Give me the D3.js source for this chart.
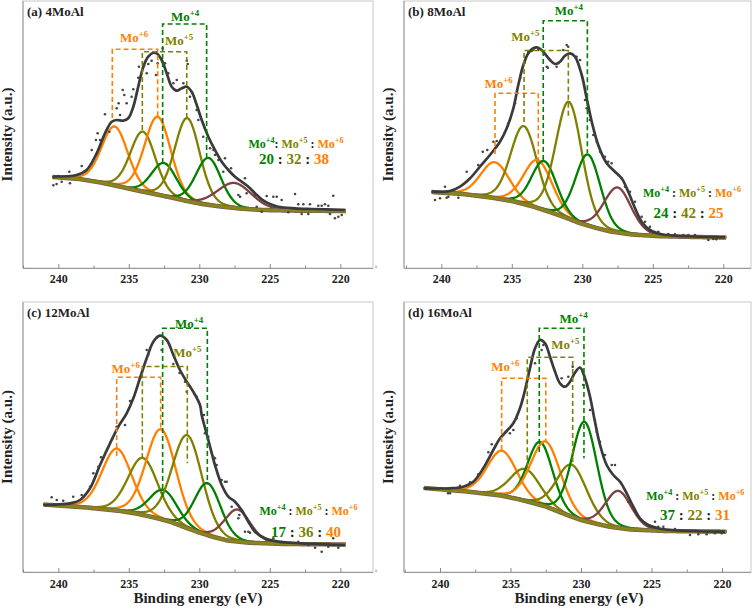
<!DOCTYPE html>
<html>
<head>
<meta charset="utf-8">
<style>
  body { margin: 0; background: #fff; }
  svg { display: block; }
  text { font-family: "Liberation Serif", "Times New Roman", serif; font-weight: bold; white-space: pre; }
</style>
</head>
<body>
<svg id="chart" width="756" height="609"></svg>
<script src="https://cdn.jsdelivr.net/npm/d3@7"></script>
<script>
// ---- data ----
const titles = ["(a) 4MoAl", "(b) 8MoAl", "(c) 12MoAl", "(d) 16MoAl"];
const xTicks = [240, 235, 230, 225, 220];
const ratios = [[20, 32, 38], [24, 42, 25], [17, 36, 40], [37, 22, 31]];

// fitted peaks: [state, centre (eV), height above background, FWHM (eV)]
const peaksA = [
  ["Mo6", 236.0, 59, 2.2], ["Mo5", 234.0, 60, 2.1], ["Mo6", 232.95, 78, 2.2],
  ["Mo4", 232.5, 33, 2.1], ["Mo5", 230.85, 83, 2.1], ["Mo4", 229.35, 47, 2.1],
  ["S2s", 227.5, 25, 2.9]
];
const peaksB = [
  ["Mo6", 236.2, 36, 2.4], ["Mo5", 234.15, 78, 2.2], ["Mo6", 233.15, 48, 2.4],
  ["Mo4", 232.7, 49, 2.1], ["Mo5", 230.95, 117, 2.2], ["Mo4", 229.6, 71, 2.1],
  ["S2s", 227.5, 45, 2.3]
];
const peaksC = [
  ["Mo6", 235.85, 62, 2.5], ["Mo5", 234.0, 57, 2.5], ["Mo6", 232.72, 90, 2.5],
  ["Mo4", 232.55, 30, 2.3], ["Mo5", 230.85, 93, 2.5], ["Mo4", 229.4, 52, 2.2],
  ["S2s", 227.3, 32, 2.2]
];
const peaksD = [
  ["Mo6", 235.6, 45, 2.5], ["Mo5", 233.95, 32, 2.5], ["Mo4", 232.9, 63, 2.1],
  ["Mo6", 232.5, 65, 2.5], ["Mo5", 230.65, 52, 2.5], ["Mo4", 229.75, 99, 2.1],
  ["S2s", 227.35, 37, 2.2]
];

// Shirley background [eV, intensity]
const bgA = [[240.4, 91], [238.5, 89], [237, 85.5], [235.6, 81.3], [234.4, 77.5], [233.2, 74], [232, 70.5],
  [230.9, 67], [229.8, 64], [228.5, 61.5], [227, 59.3], [225.5, 58], [223, 57.3], [219.6, 57]];
const bgB = [[240.7, 76], [238.5, 74], [236.5, 70.5], [235, 67], [233.5, 61.5], [232.3, 56], [231.1, 50],
  [230.2, 45], [229, 40], [228, 36.5], [226.5, 33.5], [224.5, 31.8], [222, 31], [219.8, 30.5]];
const bgC = [[241.06, 67.5], [238, 64.5], [235.6, 61], [234.3, 58], [233.2, 54.5], [232, 50], [230.9, 44],
  [230, 39.5], [229, 35], [228, 31.5], [226.5, 29.3], [224, 28], [219.6, 27.5]];
const bgD = [[241.1, 84], [238.1, 80.5], [235.7, 76.5], [234.5, 73], [233.4, 69], [232.5, 65.5], [231.7, 61],
  [230.8, 56], [230, 52], [229, 48.5], [228, 45.3], [226.5, 42.5], [224, 41], [219.7, 40.3]];

// fitted envelope [eV, intensity]
const envA = [[240.35, 91.3], [238.7, 93], [237.99, 98], [237.28, 114.7], [236.69, 134.7], [236.21, 146.3],
  [235.86, 148], [235.39, 147.3], [235.04, 149.7], [234.68, 161.3], [234.33, 181.3], [233.97, 201.3],
  [233.62, 211.3], [233.26, 215.3], [233.02, 214.7], [232.67, 208], [232.31, 194.7], [231.96, 181.3],
  [231.6, 177.3], [231.25, 179.7], [230.89, 181.3], [230.54, 176.3], [230.18, 163], [229.83, 148],
  [229.36, 131.3], [228.89, 118], [228.41, 106.3], [227.94, 98], [227.47, 91.3], [227.0, 86.3], [226.52, 81.3],
  [226.05, 74.7], [225.58, 68.7], [224.99, 64], [224.4, 61.3], [223.21, 59.7], [222.03, 59], [219.67, 58]];
const envB = [[240.68, 76.3], [239.38, 77], [238.67, 81.3], [237.96, 89.7], [237.26, 101.3], [236.55, 113],
  [235.84, 126.3], [235.36, 139.7], [234.89, 159.7], [234.54, 183], [234.18, 203], [233.83, 214.7],
  [233.48, 219.7], [233.12, 220.3], [232.77, 216.3], [232.29, 208], [231.94, 204], [231.58, 206.3],
  [231.23, 212.3], [230.87, 214.7], [230.52, 211.3], [230.04, 193], [229.69, 169.7], [229.33, 146.3],
  [228.87, 123], [228.27, 104.7], [227.68, 96.3], [227.21, 89.7], [226.74, 76.3], [226.26, 59.7], [225.79, 46.3],
  [225.2, 38], [224.37, 33.7], [222.95, 32], [219.88, 30.7]];
const envC = [[241.06, 67], [239.17, 68.7], [238.46, 72], [237.75, 83.7], [237.04, 107], [236.33, 128.7],
  [235.74, 145.3], [235.15, 158.7], [234.68, 173.7], [234.21, 193.7], [233.73, 213.7], [233.26, 230.3],
  [232.79, 236.3], [232.31, 232], [231.84, 217], [231.37, 202], [230.89, 190.3], [230.43, 180.3], [229.95, 167],
  [229.83, 157], [229.36, 132], [228.89, 107], [228.41, 87], [227.94, 75.3], [227.47, 70.3], [227.0, 62],
  [226.52, 50.3], [226.05, 40.3], [225.34, 33.7], [224.4, 30.3], [222.74, 28.7], [219.67, 27]];
const envD = [[241.18, 83.7], [239.29, 83.7], [238.35, 85.3], [237.64, 90.3], [236.93, 103.7], [236.22, 122],
  [235.74, 133.7], [235.27, 141], [234.8, 148.7], [234.33, 163.7], [233.97, 182], [233.62, 203.7],
  [233.26, 223.7], [232.91, 232], [232.55, 228.7], [232.2, 215.3], [231.84, 200.3], [231.49, 188.7],
  [231.13, 185.3], [230.78, 190.3], [230.43, 199.3], [230.07, 204.5], [229.72, 193.7], [229.36, 175.3],
  [229.01, 150.3], [228.65, 127], [228.18, 107], [227.71, 97], [227.23, 90.3], [226.76, 78.7], [226.29, 65.3],
  [225.82, 53.7], [225.23, 47], [224.28, 43], [222.15, 41], [219.79, 40.3]];

// measured points [eV, intensity]
const pointsA = [
  [240.35, 90.7], [240.0, 92], [240.35, 82.7], [240.12, 84], [239.76, 86.3], [239.17, 84.7], [239.22, 96.3],
  [238.34, 102], [237.63, 118], [237.33, 128], [237.21, 134.7], [237.04, 128], [236.69, 153.7], [236.38, 136.3],
  [235.86, 159.7], [235.72, 164.7], [235.62, 153], [235.43, 178], [235.32, 173], [235.15, 164.7], [234.8, 171.3],
  [234.68, 178.7], [234.33, 190.3], [234.28, 201.3], [233.92, 202], [233.73, 194.7], [233.62, 204], [233.38, 207.3],
  [233.07, 193], [232.95, 204.7], [232.6, 219.7], [232.43, 204.7], [232.2, 194.7], [231.84, 184.7], [231.6, 188],
  [231.13, 184.7], [230.89, 207.3], [230.82, 204], [230.66, 171.3], [230.19, 158], [230.07, 148], [229.72, 131.3],
  [229.24, 119.7], [229.0, 118], [228.89, 113], [228.65, 108], [228.18, 109.7], [228.3, 96.3], [227.75, 99.7],
  [227.23, 73], [227.11, 71.3], [226.76, 89.7], [226.64, 74.7], [226.05, 73], [225.93, 61.3], [225.58, 56.3],
  [225.22, 72], [224.75, 71.3], [224.51, 71.3], [224.16, 68], [223.69, 55.7], [223.21, 74], [222.98, 63.7],
  [222.74, 54], [222.62, 63.7], [222.27, 54], [222.15, 63.7], [221.56, 62.3], [221.32, 62.3], [221.09, 63.7],
  [220.85, 62.3], [220.73, 54], [220.5, 72.3], [220.38, 49.7], [220.14, 51.3], [219.9, 53]
];
const pointsB = [
  [240.45, 68], [240.09, 69.7], [239.62, 70.3], [239.5, 71.3], [238.79, 70.3], [239.74, 81.3], [238.2, 96.3],
  [237.38, 103], [237.06, 116.3], [236.74, 118], [236.31, 126.3], [236.07, 127], [235.25, 144.7], [234.77, 164.7],
  [234.4, 190], [234.1, 205], [233.83, 216.3], [233.59, 217], [233.48, 218.7], [233.12, 218], [232.52, 201.3],
  [232.44, 200.3], [231.82, 201.3], [231.7, 204.7], [231.35, 218], [231.11, 223], [231.0, 221.3], [230.4, 211.3],
  [230.16, 208], [229.81, 168], [229.69, 159.7], [229.45, 148], [229.22, 133], [228.98, 126.3], [228.74, 116.3],
  [228.39, 111.3], [228.16, 106.3], [227.92, 104.7], [227.45, 93], [227.21, 89.7], [226.97, 81.3], [226.62, 76.3],
  [226.26, 66.3], [225.79, 51.3], [225.55, 46.3], [225.2, 41.3], [224.61, 36.3], [223.9, 34], [223.43, 33.7],
  [222.84, 33], [222.48, 33], [222.01, 33], [221.06, 28], [220.71, 29], [220.5, 28.7]
];
const pointsC = [
  [240.47, 74.7], [240.11, 72], [239.65, 71.3], [238.94, 75.3], [238.34, 77], [237.75, 85.3], [237.52, 98.7],
  [237.16, 105.3], [236.97, 114.7], [236.62, 120.3], [236.14, 133.7], [235.86, 145.3], [235.27, 147], [234.91, 171],
  [234.21, 193.7], [234.09, 195.3], [233.73, 222], [233.62, 217], [233.02, 234.3], [232.67, 222], [231.84, 208],
  [231.4, 199], [231.01, 190.3], [230.89, 180.3], [230.18, 175.3], [229.67, 157], [229.6, 138.7], [229.48, 140.3],
  [229.36, 135.3], [229.0, 115.3], [228.89, 113.7], [228.77, 107], [228.41, 92], [228.18, 90.3], [228.06, 90.3],
  [227.7, 65.3], [227.23, 53.7], [227.16, 57], [226.76, 40.3], [226.52, 40.3], [226.4, 39.3], [224.75, 33.7],
  [222.98, 30.3], [222.27, 27], [221.79, 24.3], [221.32, 20.3], [220.85, 25.3], [220.5, 33.7], [220.14, 24.3]
];
const pointsD = [
  [239.43, 78.7], [239.29, 78.7], [238.58, 86.3], [237.87, 89.7], [237.28, 97.7], [236.57, 119.7], [236.33, 127.7],
  [235.51, 137], [235.32, 140.3], [235.04, 138.7], [234.8, 142], [234.56, 153.7], [233.85, 185.3], [233.26, 208.7],
  [232.79, 222], [232.67, 227], [231.37, 193.7], [230.9, 195.3], [230.59, 205.3], [229.84, 187], [229.74, 195.3],
  [229.36, 162], [229.01, 152], [228.89, 140.3], [228.65, 130.3], [228.3, 117], [227.82, 107], [227.59, 107],
  [226.65, 70.3], [224.75, 50.3], [224.52, 45.3], [224.16, 45.3], [223.33, 43], [222.27, 37], [221.68, 37.7],
  [221.09, 37.7], [220.5, 38.7], [220.02, 38.7]
];

// doublet brackets: [state, left eV, right eV, top, left end, right end, label eV, label baseline]
const bracketsA = [
  ["Mo6", 236.17, 232.95, 218.7, 150, 152, 234.63, 226],
  ["Mo5", 234.04, 230.89, 216.3, 138, 149, 231.44, 223],
  ["Mo4", 232.6, 229.48, 244, 105, 111, 231.01, 247]
];
const bracketsB = [
  ["Mo6", 236.19, 233.12, 174.7, 114, 106, 235.93, 180],
  ["Mo5", 234.13, 230.99, 217.5, 146, 151, 234.04, 227],
  ["Mo4", 232.77, 229.64, 247.3, 108, 115, 230.96, 253]
];
const bracketsC = [
  ["Mo6", 235.86, 232.74, 194.7, 116, 142.7, 235.22, 199],
  ["Mo5", 234.04, 230.85, 205.5, 113.7, 108.7, 230.85, 215],
  ["Mo4", 232.6, 229.43, 243.7, 75, 87.5, 230.73, 244]
];
const bracketsD = [
  ["Mo6", 235.63, 232.5, 193.7, 122, 130, 235.37, 201],
  ["Mo5", 233.81, 230.59, 214.7, 103.7, 108.7, 231.11, 223],
  ["Mo4", 232.96, 229.79, 243.7, 120, 113.7, 230.52, 249]
];

// ---- layout ----
const boxes = [
  { left: 23, top: 1, width: 350, height: 267, t240: 35.3 },
  { left: 404, top: 1, width: 347, height: 267, t240: 37.3 },
  { left: 23, top: 302, width: 350, height: 270, t240: 35.3 },
  { left: 404, top: 302, width: 347, height: 270, t240: 36 }
];
const ratioPos = [[296, 148, 294, 164], [692, 197, 688.5, 218], [308.5, 515, 306, 537], [695.3, 500, 695, 520]];
const panelData = [
  { peaks: peaksA, bg: bgA, env: envA, pts: pointsA, br: bracketsA },
  { peaks: peaksB, bg: bgB, env: envB, pts: pointsB, br: bracketsB },
  { peaks: peaksC, bg: bgC, env: envC, pts: pointsC, br: bracketsC },
  { peaks: peaksD, bg: bgD, env: envD, pts: pointsD, br: bracketsD }
];

const color = d3.scaleOrdinal()
  .domain(["Mo6", "Mo5", "Mo4", "S2s"])
  .range(["#ff8000", "#808000", "#008000", "#7f4040"]);
const charge = { Mo6: "+6", Mo5: "+5", Mo4: "+4" };

// Gaussian-Lorentzian line shape
function glPeak(e, c, h, w) {
  const d = (e - c) / w;
  return h * (0.85 * Math.exp(-4 * Math.LN2 * d * d) + 0.15 / (1 + 4 * d * d));
}

function richText(parent, x, y, size, segs) {
  const t = parent.append("text")
    .attr("x", x).attr("y", y)
    .attr("text-anchor", "middle")
    .attr("font-size", size);
  let cur = 0;
  segs.forEach(([txt, col, sup]) => {
    const target = sup ? -size * 0.4 : 0;
    t.append("tspan")
      .attr("dy", target - cur)
      .attr("font-size", sup ? size * 0.68 : size)
      .attr("fill", col)
      .text(txt);
    cur = target;
  });
  return t;
}

const svg = d3.select("#chart");

panelData.forEach((p, i) => {
  const b = boxes[i];
  const bottom = b.top + b.height;
  const x = d3.scaleLinear().domain([240, 220]).range([b.left + b.t240, b.left + b.t240 + 282]);
  const y = d3.scaleLinear().domain([0, b.height]).range([bottom, b.top]);
  const bgScale = d3.scaleLinear().domain(p.bg.map(d => d[0])).range(p.bg.map(d => d[1])).clamp(true);
  const span = d3.extent(p.bg, d => d[0]);
  const grid = d3.range(span[0], span[1] + 0.001, 0.04);

  const g = svg.append("g");

  // frame
  g.append("rect")
    .attr("x", b.left).attr("y", b.top)
    .attr("width", b.width).attr("height", b.height)
    .attr("fill", "none").attr("stroke", "#c8c8c8");
  g.append("line")
    .attr("x1", b.left).attr("x2", b.left).attr("y1", b.top).attr("y2", bottom)
    .attr("stroke", "#9a9a9a");

  // x axis
  const minor = d3.range(242.5, 217.4, -2.5);
  const axis = d3.axisBottom(x)
    .tickValues(minor)
    .tickFormat(d => (xTicks.includes(d) ? d : ""))
    .tickSizeInner(-4)
    .tickSizeOuter(0)
    .tickPadding(i < 2 ? 6.5 : 7.5);
  const ax = g.append("g").attr("transform", `translate(0,${bottom})`).call(axis);
  ax.select(".domain").attr("stroke", "#9a9a9a").attr("d", `M${b.left},0.5H${b.left + b.width}`);
  ax.selectAll(".tick line").attr("stroke", "#8a8a8a")
    .attr("y2", d => (xTicks.includes(d) ? -4 : -2.5));
  ax.selectAll(".tick text")
    .attr("font-size", 12)
    .attr("fill", "#222");

  const line = d3.line().x(d => x(d[0])).y(d => y(d[1]));

  // component peaks
  p.peaks.forEach(pk => {
    const pts = grid.map(e => [e, bgScale(e) + glPeak(e, pk[1], pk[2], pk[3])]);
    g.append("path").attr("d", line(pts))
      .attr("fill", "none").attr("stroke", color(pk[0])).attr("stroke-width", 2.3);
  });

  // background band
  const bgPts = grid.map(e => [e, bgScale(e)]);
  g.append("path").attr("d", line(bgPts))
    .attr("fill", "none").attr("stroke", "#7f5a4a").attr("stroke-width", 4.5);
  g.append("path").attr("d", line(bgPts))
    .attr("fill", "none").attr("stroke", "#86861a").attr("stroke-width", 3);

  // envelope
  g.append("path").attr("d", line.curve(d3.curveCatmullRom.alpha(0.5))(p.env))
    .attr("fill", "none").attr("stroke", "#3a3a3a").attr("stroke-width", 2.7);
  line.curve(d3.curveLinear);

  // measured points
  g.selectAll(".pt").data(p.pts).join("circle")
    .attr("cx", d => x(d[0])).attr("cy", d => y(d[1]))
    .attr("r", 1.3).attr("fill", "#444");

  // doublet brackets
  p.br.forEach(r => {
    const path = d3.path();
    path.moveTo(x(r[1]), y(r[4]));
    path.lineTo(x(r[1]), y(r[3]));
    path.lineTo(x(r[2]), y(r[3]));
    path.lineTo(x(r[2]), y(r[5]));
    g.append("path").attr("d", path.toString())
      .attr("fill", "none").attr("stroke", color(r[0]))
      .attr("stroke-width", 1.6).attr("stroke-dasharray", "5,3");
    richText(g, x(r[6]), y(r[7]), 13, [["Mo", color(r[0]), false], [charge[r[0]], color(r[0]), true]]);
  });

  // ratio annotation
  const rp = ratioPos[i];
  const sep = i === 0 ? ": " : " : ";
  richText(g, rp[0], rp[1], 12, [
    ["Mo", color("Mo4"), false], ["+4", color("Mo4"), true], [sep, "#222", false],
    ["Mo", color("Mo5"), false], ["+5", color("Mo5"), true], [" : ", "#222", false],
    ["Mo", color("Mo6"), false], ["+6", color("Mo6"), true]
  ]);
  richText(g, rp[2], rp[3], 15, [
    [String(ratios[i][0]), color("Mo4"), false], [" : ", "#222", false],
    [String(ratios[i][1]), color("Mo5"), false], [" : ", "#222", false],
    [String(ratios[i][2]), color("Mo6"), false]
  ]);

  // titles and axis labels
  g.append("text").attr("x", b.left + 4).attr("y", b.top + 15)
    .attr("font-size", 13).attr("fill", "#222").text(titles[i]);
  g.append("text")
    .attr("transform", `translate(${b.left - 11.5},${b.top + b.height / 2}) rotate(-90)`)
    .attr("text-anchor", "middle").attr("font-size", 15).attr("fill", "#222")
    .text("Intensity (a.u.)");
  if (i >= 2) {
    g.append("text").attr("x", b.left + 175).attr("y", 603)
      .attr("text-anchor", "middle").attr("font-size", 15).attr("fill", "#222")
      .text("Binding energy (eV)");
  }
});
</script>
</body>
</html>
